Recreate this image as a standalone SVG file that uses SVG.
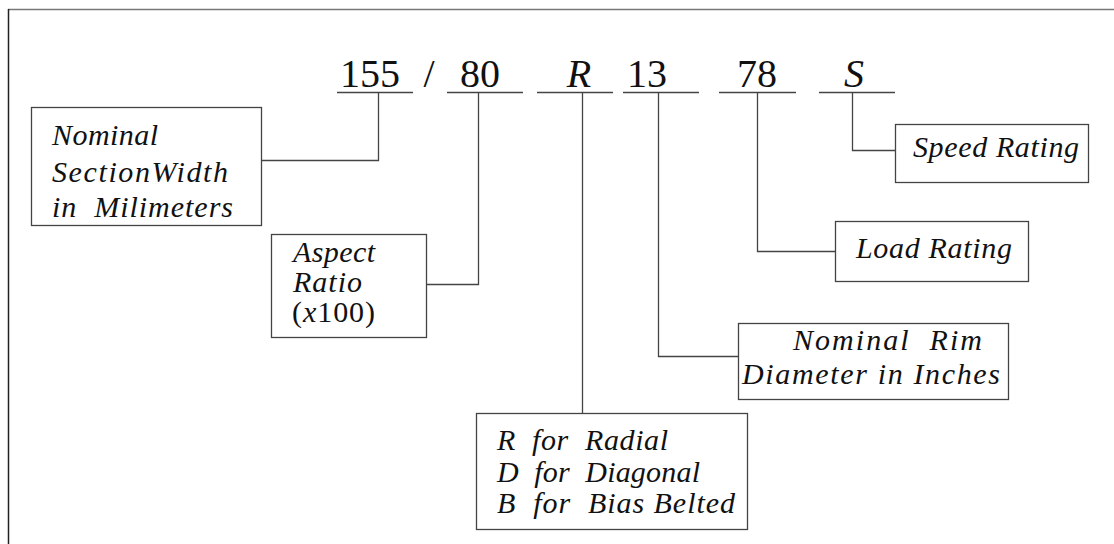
<svg xmlns="http://www.w3.org/2000/svg" width="1114" height="544" viewBox="0 0 1114 544">
  <style>
    text { font-family: 'Liberation Serif', 'Times New Roman', 'DejaVu Serif', serif; fill: #111; }
    .code { font-size: 40px; }
    .code-it { font-style: italic; }
    .lbl { font-style: italic; font-size: 30px; }
    .rm { font-style: normal; }
    .box { fill: #fff; stroke: #444; stroke-width: 1.3; }
    .wire { fill: none; stroke: #444; stroke-width: 1.3; }
    .under { stroke: #444; stroke-width: 1.3; }
  </style>

  <rect x="0" y="0" width="1114" height="544" fill="#fff"/>
  <!-- page frame (top and left edges) -->
  <line x1="8" y1="9.5" x2="1114" y2="9.5" stroke="#777" stroke-width="1.5"/>
  <line x1="8.5" y1="9" x2="8.5" y2="544" stroke="#222" stroke-width="1.5"/>

  <!-- tyre size code -->
  <g id="code">
    <text class="code" x="370" y="87" text-anchor="middle">155</text>
    <text class="code" x="429" y="87" text-anchor="middle">/</text>
    <text class="code" x="480" y="87" text-anchor="middle">80</text>
    <text class="code code-it" x="579" y="87" text-anchor="middle">R</text>
    <text class="code" x="647" y="87" text-anchor="middle">13</text>
    <text class="code" x="757" y="87" text-anchor="middle">78</text>
    <text class="code code-it" x="854" y="87" text-anchor="middle">S</text>
    <line class="under" x1="337" y1="92.5" x2="413" y2="92.5"/>
    <line class="under" x1="447" y1="92.5" x2="523" y2="92.5"/>
    <line class="under" x1="537" y1="92.5" x2="613" y2="92.5"/>
    <line class="under" x1="623" y1="92.5" x2="699" y2="92.5"/>
    <line class="under" x1="719" y1="92.5" x2="796" y2="92.5"/>
    <line class="under" x1="819" y1="92.5" x2="895" y2="92.5"/>
  </g>

  <!-- leader lines from each part of the code to its description -->
  <g id="connectors">
    <polyline class="wire" points="378.5,92.5 378.5,160.5 261,160.5"/>
    <polyline class="wire" points="478.5,92.5 478.5,284.5 426,284.5"/>
    <polyline class="wire" points="582.5,92.5 582.5,413"/>
    <polyline class="wire" points="658.5,92.5 658.5,356.5 738,356.5"/>
    <polyline class="wire" points="757.5,92.5 757.5,251.5 835,251.5"/>
    <polyline class="wire" points="852.5,92.5 852.5,150.5 895,150.5"/>
  </g>

  <g id="section-width">
    <rect class="box" x="31.5" y="107.5" width="230" height="118"/>
    <text class="lbl" x="52" y="145" textLength="106">Nominal</text>
    <text class="lbl" x="52" y="182" textLength="176">SectionWidth</text>
    <text class="lbl" x="52" y="217" textLength="181" xml:space="preserve">in  Milimeters</text>
  </g>

  <g id="aspect-ratio">
    <rect class="box" x="271.5" y="234.5" width="155" height="103"/>
    <text class="lbl" x="293" y="262" textLength="82">Aspect</text>
    <text class="lbl" x="293" y="292" textLength="69">Ratio</text>
    <text class="lbl" x="292" y="322" textLength="83"><tspan class="rm">(</tspan>x<tspan class="rm">100)</tspan></text>
  </g>

  <g id="construction">
    <rect class="box" x="476.5" y="413.5" width="271" height="116"/>
    <text class="lbl" x="497" y="450" textLength="171" xml:space="preserve">R  for  Radial</text>
    <text class="lbl" x="497" y="482" textLength="203" xml:space="preserve">D  for  Diagonal</text>
    <text class="lbl" x="497" y="513" textLength="238" xml:space="preserve">B  for  Bias Belted</text>
  </g>

  <g id="rim-diameter">
    <rect class="box" x="738.5" y="323.5" width="270" height="76"/>
    <text class="lbl" x="793" y="350" textLength="189" xml:space="preserve">Nominal  Rim</text>
    <text class="lbl" x="742" y="384" textLength="258">Diameter in Inches</text>
  </g>

  <g id="load-rating">
    <rect class="box" x="835.5" y="221.5" width="193" height="60"/>
    <text class="lbl" x="856" y="258" textLength="156">Load Rating</text>
  </g>

  <g id="speed-rating">
    <rect class="box" x="895.5" y="124.5" width="193" height="58"/>
    <text class="lbl" x="913" y="157" textLength="166">Speed Rating</text>
  </g>
</svg>
